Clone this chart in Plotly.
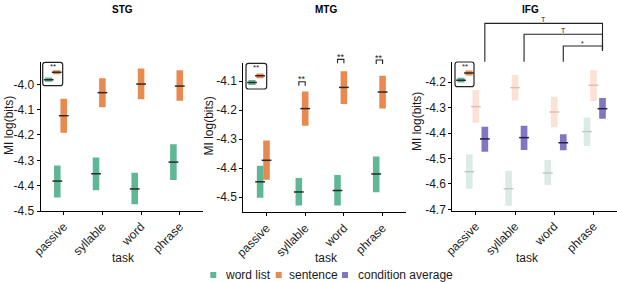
import plotly.graph_objects as go

# ---------------- data ----------------
tasks = ["passive", "syllable", "word", "phrase"]

stg_wl_mean = [-4.382, -4.353, -4.413, -4.307]
stg_wl_lo = [-4.447, -4.418, -4.473, -4.378]
stg_wl_hi = [-4.320, -4.289, -4.349, -4.237]
stg_sent_mean = [-4.124, -4.033, -3.999, -4.007]
stg_sent_lo = [-4.191, -4.091, -4.059, -4.065]
stg_sent_hi = [-4.057, -3.976, -3.938, -3.945]

mtg_wl_mean = [-4.447, -4.482, -4.477, -4.420]
mtg_wl_lo = [-4.502, -4.529, -4.529, -4.483]
mtg_wl_hi = [-4.392, -4.434, -4.424, -4.360]
mtg_sent_mean = [-4.373, -4.195, -4.122, -4.138]
mtg_sent_lo = [-4.440, -4.254, -4.179, -4.195]
mtg_sent_hi = [-4.305, -4.136, -4.066, -4.082]

ifg_wl_mean = [-4.552, -4.619, -4.557, -4.394]
ifg_wl_lo = [-4.619, -4.686, -4.604, -4.451]
ifg_wl_hi = [-4.483, -4.549, -4.506, -4.339]
ifg_sent_mean = [-4.296, -4.221, -4.317, -4.212]
ifg_sent_lo = [-4.359, -4.272, -4.377, -4.274]
ifg_sent_hi = [-4.230, -4.171, -4.257, -4.152]
ifg_avg_mean = [-4.423, -4.418, -4.438, -4.304]
ifg_avg_lo = [-4.473, -4.467, -4.468, -4.344]
ifg_avg_hi = [-4.375, -4.371, -4.405, -4.262]

stg_yticks = [-4.5, -4.4, -4.3, -4.2, -4.1, -4.0]
mtg_yticks = [-4.5, -4.4, -4.3, -4.2, -4.1]
ifg_yticks = [-4.7, -4.6, -4.5, -4.4, -4.3, -4.2]

# inset: overall word list vs sentence
inset_wl = {"STG": -4.36, "MTG": -4.46, "IFG": -4.53}
inset_sent = {"STG": -4.04, "MTG": -4.21, "IFG": -4.26}
inset_half = 0.09
inset_sig = "**"

# MTG pairwise significance per task
mtg_sig = ["", "**", "**", "**"]
mtg_sig_level = [None, -4.1024, -4.0254, -4.0278]

# IFG condition-average comparisons
ifg_comp_from = ["passive", "syllable", "word"]
ifg_comp_to = ["phrase", "phrase", "phrase"]
ifg_comp_label = ["T", "T", "*"]
ifg_comp_level = [-3.968, -4.011, -4.057]

legend_names = ["word list", "sentence", "condition average"]

# ---------------- styling / layout ----------------
W, H = 617, 282
FONT = "Liberation Sans, Arial, Helvetica, sans-serif"
GREEN = "#5fb796"
ORANGE = "#e8894f"
PURPLE = "#8176c3"
GREEN_F = "#dcece5"
ORANGE_F = "#fbe2d4"
MEANC = "#2a2a2a"

XR = (0.4, 4.6)
BW = 0.17
OFF = {"wl": -0.165, "sent": 0.0, "avg": 0.23}

panels = {
    "STG": dict(ax="", xdom=(40.5, 203.0), ydom=(62.0, 211.0), yr=(-4.5, -3.912),
                ticks=stg_yticks, title_x=122.5, ylab=(9, 126), task_x=123,
                box=(42.7, 62.3, 62.7, 85.7), gpy=79.7, scale=23.2, iax="4"),
    "MTG": dict(ax="2", xdom=(243.3, 405.8), ydom=(63.0, 212.3), yr=(-4.552, -4.038),
                ticks=mtg_yticks, title_x=326, ylab=(208, 126.5), task_x=326.3,
                box=(246.0, 63.3, 266.7, 89.0), gpy=82.5, scale=26.8, iax="5"),
    "IFG": dict(ax="3", xdom=(452.3, 617.0), ydom=(61.7, 210.7), yr=(-4.7055, -4.119),
                ticks=ifg_yticks, title_x=530.5, ylab=(417, 122), task_x=527,
                box=(455.0, 62.0, 474.0, 86.7), gpy=80.2, scale=26.8, iax="6"),
}


def px2paper_x(px):
    return px / W


def px2paper_y(py):
    return 1 - py / H


def dx(p, xv):
    d = panels[p]["xdom"]
    return d[0] + (xv - XR[0]) / (XR[1] - XR[0]) * (d[1] - d[0])


def dy(p, yv):
    d = panels[p]["ydom"]
    r = panels[p]["yr"]
    return d[1] - (yv - r[0]) / (r[1] - r[0]) * (d[1] - d[0])


fig = go.Figure()


def add_series(p, key, mean, lo, hi, color, line_color, name):
    ax = panels[p]["ax"]
    xs = [i + 1 + OFF[key] for i in range(len(tasks))]
    fig.add_trace(go.Bar(
        x=xs, base=lo, y=[h - l for h, l in zip(hi, lo)], width=BW,
        marker=dict(color=color, line=dict(width=0)), name=name, showlegend=False,
        xaxis="x" + ax, yaxis="y" + ax, hoverinfo="skip"))
    fig.add_trace(go.Scatter(
        x=xs, y=mean, mode="markers", showlegend=False, name=name,
        marker=dict(symbol="line-ew", size=7, line=dict(width=1.5, color=line_color)),
        xaxis="x" + ax, yaxis="y" + ax, hoverinfo="skip", cliponaxis=False))


add_series("STG", "wl", stg_wl_mean, stg_wl_lo, stg_wl_hi, GREEN, MEANC, legend_names[0])
add_series("STG", "sent", stg_sent_mean, stg_sent_lo, stg_sent_hi, ORANGE, MEANC, legend_names[1])
add_series("MTG", "wl", mtg_wl_mean, mtg_wl_lo, mtg_wl_hi, GREEN, MEANC, legend_names[0])
add_series("MTG", "sent", mtg_sent_mean, mtg_sent_lo, mtg_sent_hi, ORANGE, MEANC, legend_names[1])
add_series("IFG", "wl", ifg_wl_mean, ifg_wl_lo, ifg_wl_hi, GREEN_F, "#bccbc4", legend_names[0])
add_series("IFG", "sent", ifg_sent_mean, ifg_sent_lo, ifg_sent_hi, ORANGE_F, "#dcc2b4", legend_names[1])
add_series("IFG", "avg", ifg_avg_mean, ifg_avg_lo, ifg_avg_hi, PURPLE, "#262046", legend_names[2])

layout = dict(
    template="none",
    width=W, height=H, margin=dict(l=0, r=0, t=0, b=0, pad=0, autoexpand=False),
    paper_bgcolor="white", plot_bgcolor="white", barmode="overlay",
    showlegend=False, font=dict(family=FONT, size=12, color="#1a1a1a"),
)

shapes = []
annotations = []

for p, cfg in panels.items():
    ax = cfg["ax"]
    xd = cfg["xdom"]
    yd = cfg["ydom"]
    layout["xaxis" + ax] = dict(
        domain=[px2paper_x(xd[0]), px2paper_x(xd[1])], anchor="y" + ax, range=list(XR),
        tickmode="array", tickvals=[i + 1 for i in range(len(tasks))], ticktext=tasks,
        tickangle=-45, showline=True, linecolor="black", linewidth=1, ticks="outside",
        ticklen=3, tickcolor="black", showgrid=False, zeroline=False, automargin=False,
        tickfont=dict(size=12, color="#1a1a1a", family=FONT))
    layout["yaxis" + ax] = dict(
        domain=[px2paper_y(yd[1]), px2paper_y(yd[0])], anchor="x" + ax, range=list(cfg["yr"]),
        tickmode="array", tickvals=cfg["ticks"], ticktext=[f"{v:.1f}" for v in cfg["ticks"]],
        showline=True, linecolor="black", linewidth=1, ticks="outside", ticklen=3,
        tickcolor="black", showgrid=False, zeroline=False, automargin=False,
        tickfont=dict(size=12, color="#1a1a1a", family=FONT))

    # titles
    annotations.append(dict(text="<b>%s</b>" % p, x=px2paper_x(cfg["title_x"]), y=px2paper_y(9.5),
                            xref="paper", yref="paper", showarrow=False,
                            font=dict(size=10, color="black", family=FONT),
                            xanchor="center", yanchor="middle"))
    annotations.append(dict(text="MI log(bits)", x=px2paper_x(cfg["ylab"][0]), y=px2paper_y(cfg["ylab"][1]),
                            xref="paper", yref="paper", showarrow=False, textangle=-90,
                            font=dict(size=12, color="#1a1a1a", family=FONT),
                            xanchor="center", yanchor="middle"))
    annotations.append(dict(text="task", x=px2paper_x(cfg["task_x"]), y=px2paper_y(258),
                            xref="paper", yref="paper", showarrow=False,
                            font=dict(size=12, color="#1a1a1a", family=FONT),
                            xanchor="center", yanchor="middle"))

    # inset
    bx0, by0, bx1, by1 = cfg["box"]
    iax = cfg["iax"]
    ppx = 8.0
    xr_in = [-0.75, -0.75 + (bx1 - bx0) / ppx]
    s = cfg["scale"]
    yr_in = [inset_wl[p] - (by1 - cfg["gpy"]) / s, inset_wl[p] + (cfg["gpy"] - by0) / s]
    layout["xaxis" + iax] = dict(domain=[px2paper_x(bx0), px2paper_x(bx1)], anchor="y" + iax,
                                 range=xr_in, visible=False, fixedrange=True, automargin=False)
    layout["yaxis" + iax] = dict(domain=[px2paper_y(by1), px2paper_y(by0)], anchor="x" + iax,
                                 range=yr_in, visible=False, fixedrange=True, automargin=False)
    for j, (val, col) in enumerate([(inset_wl[p], GREEN), (inset_sent[p], ORANGE)]):
        fig.add_trace(go.Bar(x=[j], base=[val - inset_half], y=[2 * inset_half], width=0.9,
                             marker=dict(color=col, line=dict(width=0)), showlegend=False,
                             xaxis="x" + iax, yaxis="y" + iax, hoverinfo="skip"))
        fig.add_trace(go.Scatter(x=[j], y=[val], mode="markers", showlegend=False,
                                 marker=dict(symbol="line-ew", size=7, line=dict(width=1.5, color=MEANC)),
                                 xaxis="x" + iax, yaxis="y" + iax, hoverinfo="skip"))
    r = 2.5
    X0, X1 = px2paper_x(bx0), px2paper_x(bx1)
    Y0, Y1 = px2paper_y(by0), px2paper_y(by1)
    rx, ry = r / W, r / H
    path = (f"M {X0+rx},{Y0} L {X1-rx},{Y0} Q {X1},{Y0} {X1},{Y0-ry} "
            f"L {X1},{Y1+ry} Q {X1},{Y1} {X1-rx},{Y1} L {X0+rx},{Y1} "
            f"Q {X0},{Y1} {X0},{Y1+ry} L {X0},{Y0-ry} Q {X0},{Y0} {X0+rx},{Y0} Z")
    shapes.append(dict(type="path", path=path, xref="paper", yref="paper",
                       line=dict(color="#222", width=1.2), fillcolor="rgba(0,0,0,0)"))
    annotations.append(dict(text=inset_sig, x=px2paper_x((bx0 + bx1) / 2), y=px2paper_y(by0 + 4.5),
                            xref="paper", yref="paper", showarrow=False,
                            font=dict(size=8, color="#222", family=FONT),
                            xanchor="center", yanchor="middle"))

# MTG brackets
LEG = 4.0
for i, sig in enumerate(mtg_sig):
    if not sig:
        continue
    xl = dx("MTG", i + 1 + OFF["wl"])
    xr_ = dx("MTG", i + 1 + OFF["sent"])
    yt = dy("MTG", mtg_sig_level[i])
    path = (f"M {px2paper_x(xl)},{px2paper_y(yt+LEG)} L {px2paper_x(xl)},{px2paper_y(yt)} "
            f"L {px2paper_x(xr_)},{px2paper_y(yt)} L {px2paper_x(xr_)},{px2paper_y(yt+LEG)}")
    shapes.append(dict(type="path", path=path, xref="paper", yref="paper",
                       line=dict(color="#222", width=1.1)))
    annotations.append(dict(text=sig, x=px2paper_x((xl + xr_) / 2), y=px2paper_y(yt - 2.5),
                            xref="paper", yref="paper", showarrow=False,
                            font=dict(size=9, color="#222", family=FONT),
                            xanchor="center", yanchor="middle"))

# IFG brackets
ytop_axis = dy("IFG", panels["IFG"]["yr"][1])
ybot_right = dy("IFG", ifg_comp_level[-1]) + 4.7
for a, b, lab, lev in zip(ifg_comp_from, ifg_comp_to, ifg_comp_label, ifg_comp_level):
    xl = dx("IFG", tasks.index(a) + 1 + OFF["avg"])
    xr_ = dx("IFG", tasks.index(b) + 1 + OFF["avg"])
    yt = dy("IFG", lev)
    path = (f"M {px2paper_x(xl)},{px2paper_y(ytop_axis)} L {px2paper_x(xl)},{px2paper_y(yt)} "
            f"L {px2paper_x(xr_)},{px2paper_y(yt)} L {px2paper_x(xr_)},{px2paper_y(ybot_right)}")
    shapes.append(dict(type="path", path=path, xref="paper", yref="paper",
                       line=dict(color="#222", width=1.1)))
    annotations.append(dict(text=lab, x=px2paper_x((xl + xr_) / 2),
                            y=px2paper_y(yt - (4.0 if lab == "T" else 2.0)),
                            xref="paper", yref="paper", showarrow=False,
                            font=dict(size=7, color="#222", family=FONT),
                            xanchor="center", yanchor="middle"))

# manual legend
leg_sq = [213.3, 278.7, 345.0]
leg_txt = [223.0, 287.0, 356.0]
leg_cols = [GREEN, ORANGE, PURPLE]
LY = 275.0
for sq, tx, col, nm in zip(leg_sq, leg_txt, leg_cols, legend_names):
    shapes.append(dict(type="rect", xref="paper", yref="paper",
                       x0=px2paper_x(sq - 3), x1=px2paper_x(sq + 3),
                       y0=px2paper_y(LY + 3), y1=px2paper_y(LY - 3),
                       fillcolor=col, line=dict(width=0)))
    annotations.append(dict(text=nm, x=px2paper_x(tx), y=px2paper_y(LY), xref="paper", yref="paper",
                            showarrow=False, xanchor="left", yanchor="middle",
                            font=dict(size=12, color="#1a1a1a", family=FONT)))

layout["shapes"] = shapes
layout["annotations"] = annotations
fig.update_layout(**layout)
fig.write_html("out.html", config={"displayModeBar": False, "staticPlot": True},
               post_script="document.body.style.margin='0';document.body.style.padding='0';")
